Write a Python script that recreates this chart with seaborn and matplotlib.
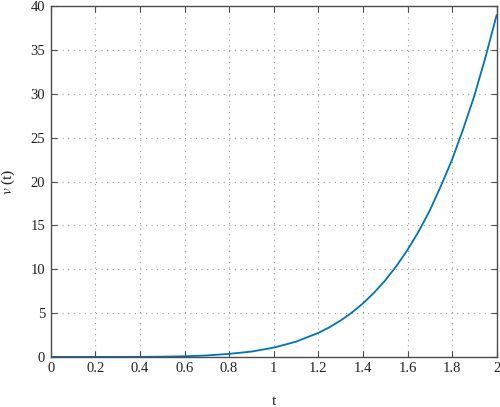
import matplotlib
matplotlib.use('Agg')
import matplotlib.pyplot as plt
import seaborn as sns
import pandas as pd

# 数值
t_values = [0.0, 0.1, 0.2, 0.3, 0.4, 0.5, 0.6, 0.7, 0.8, 0.9, 1.0, 1.1,
            1.2, 1.25, 1.3, 1.35, 1.4, 1.45, 1.5, 1.55, 1.6, 1.65, 1.7,
            1.75, 1.8, 1.85, 1.9, 1.95, 2.0]
v_values = [0.0, 0.0, 0.0, 0.002, 0.009, 0.03, 0.075, 0.17, 0.35, 0.61, 1.06, 1.74,
            2.74, 3.38, 4.15, 5.05, 6.1, 7.32, 8.73, 10.35, 12.2, 14.3, 16.7,
            19.5, 22.5, 26.0, 29.8, 34.2, 39.0]
x_ticks = [0, 0.2, 0.4, 0.6, 0.8, 1, 1.2, 1.4, 1.6, 1.8, 2]
x_tick_labels = ['0', '0.2', '0.4', '0.6', '0.8', '1', '1.2', '1.4', '1.6', '1.8', '2']
y_ticks = [0, 5, 10, 15, 20, 25, 30, 35, 40]

sns.set_theme(style='ticks')
plt.rcParams['font.family'] = ['Liberation Serif', 'DejaVu Serif']
plt.rcParams['mathtext.fontset'] = 'stix'

df = pd.DataFrame({'t': t_values, 'v': v_values})

fig = plt.figure(figsize=(5.0, 4.07), dpi=100)
ax = fig.add_axes([0.1014, 0.123, 0.892, 0.862])

sns.lineplot(data=df, x='t', y='v', ax=ax, color='#0072BD', linewidth=1.3)

ax.set_xlim(0, 2)
ax.set_ylim(0, 40)
ax.set_xticks(x_ticks)
ax.set_xticklabels(x_tick_labels)
ax.set_yticks(y_ticks)

ax.grid(True, color='#9a9a9a', linestyle=(0, (1, 4)), linewidth=0.8)
for side in ['top', 'right', 'bottom', 'left']:
    ax.spines[side].set_visible(True)
    ax.spines[side].set_color('#4d4d4d')
    ax.spines[side].set_linewidth(1.0)

ax.tick_params(direction='in', length=4, width=0.8, color='#4d4d4d',
               top=True, right=True, labelsize=10.5, labelcolor='#222222', pad=4)

ax.set_xlabel('t', fontsize=11, color='#222222', labelpad=14)
ax.set_ylabel('$v$ (t)', fontsize=11, color='#222222', labelpad=10)

plt.savefig('out.png', dpi=100)
plt.close()
